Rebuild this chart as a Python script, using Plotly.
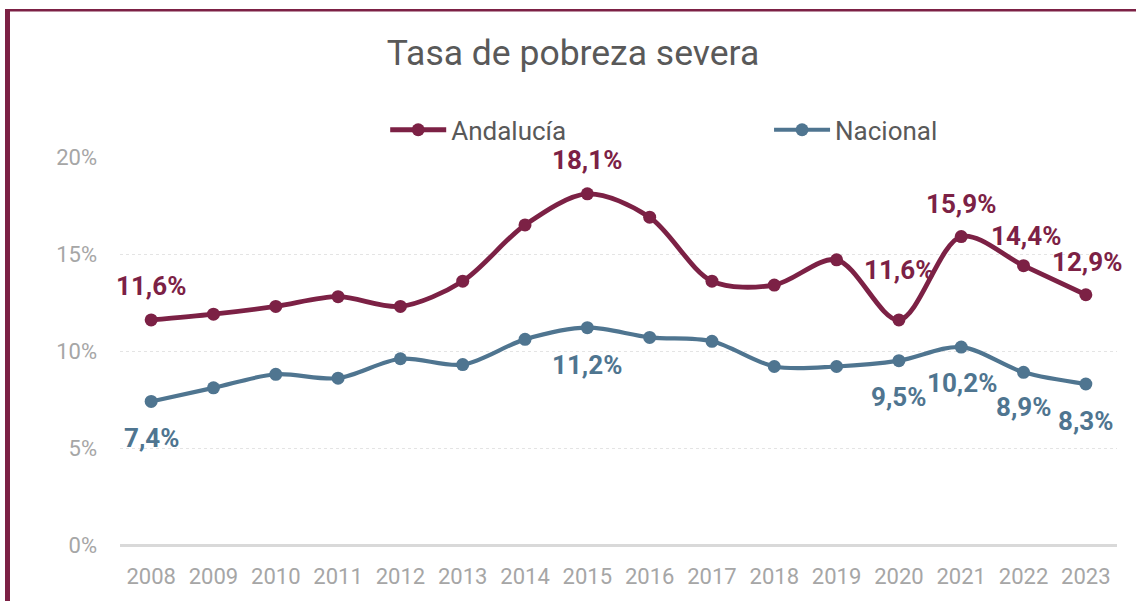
import plotly.graph_objects as go

years = ["2008", "2009", "2010", "2011", "2012", "2013", "2014", "2015",
         "2016", "2017", "2018", "2019", "2020", "2021", "2022", "2023"]
andalucia = [0.116, 0.119, 0.123, 0.128, 0.123, 0.136, 0.165, 0.181,
             0.169, 0.136, 0.134, 0.147, 0.116, 0.159, 0.144, 0.129]
nacional = [0.074, 0.081, 0.088, 0.086, 0.096, 0.093, 0.106, 0.112,
            0.107, 0.105, 0.092, 0.092, 0.095, 0.102, 0.089, 0.083]
and_labels = {"2008": "11,6%", "2015": "18,1%", "2020": "11,6%",
              "2021": "15,9%", "2022": "14,4%", "2023": "12,9%"}
nac_labels = {"2008": "7,4%", "2015": "11,2%", "2020": "9,5%",
              "2021": "10,2%", "2022": "8,9%", "2023": "8,3%"}
y_ticks = [0, 0.05, 0.10, 0.15, 0.20]
y_ticktext = ["0%", "5%", "10%", "15%", "20%"]

MAROON = "#7C2145"
BLUE = "#4F7590"
FONT = "Roboto"

fig = go.Figure()
fig.add_trace(go.Scatter(
    x=years, y=andalucia, name="Andalucía", mode="lines+markers",
    line=dict(color=MAROON, width=4.8, shape="spline", smoothing=0.9),
    marker=dict(color=MAROON, size=13), cliponaxis=False, legend="legend"))
fig.add_trace(go.Scatter(
    x=years, y=nacional, name="Nacional", mode="lines+markers",
    line=dict(color=BLUE, width=4.2, shape="spline", smoothing=0.9),
    marker=dict(color=BLUE, size=13), cliponaxis=False, legend="legend2"))

# label placement (pixel shifts relative to the data point)
and_shift = {"2008": (0, 34), "2015": (0, 34), "2020": (0, 50),
             "2021": (0, 33), "2022": (2, 30), "2023": (1, 33)}
nac_shift = {"2008": (0, -37), "2015": (0, -37), "2020": (0, -36),
             "2021": (1, -36), "2022": (0, -35), "2023": (0, -37)}

annotations = []
for yr, txt in and_labels.items():
    i = years.index(yr)
    dx, dy = and_shift[yr]
    annotations.append(dict(x=i, y=andalucia[i], text=txt, showarrow=False,
                            xshift=dx, yshift=dy,
                            font=dict(family=FONT, size=26, color=MAROON, weight="bold")))
for yr, txt in nac_labels.items():
    i = years.index(yr)
    dx, dy = nac_shift[yr]
    annotations.append(dict(x=i, y=nacional[i], text=txt, showarrow=False,
                            xshift=dx, yshift=dy,
                            font=dict(family=FONT, size=26, color=BLUE, weight="bold")))

shapes = [
    # left maroon frame edge
    dict(type="rect", xref="paper", yref="paper", xsizemode="pixel", ysizemode="pixel",
         xanchor=0, yanchor=1, x0=-115, x1=-110, y0=-450, y1=148,
         fillcolor=MAROON, line=dict(width=0), layer="above"),
    # top maroon frame edge
    dict(type="rect", xref="paper", yref="paper", xsizemode="pixel", ysizemode="pixel",
         xanchor=0, yanchor=1, x0=-115, x1=1030, y0=145.5, y1=148,
         fillcolor=MAROON, line=dict(width=0), layer="above"),
]

legend_style = dict(orientation="h", yanchor="middle", y=1.07, xanchor="left",
                    font=dict(family=FONT, size=26, color="#595959"),
                    itemwidth=56, bgcolor="rgba(0,0,0,0)")

fig.update_layout(
    width=1136, height=601,
    margin=dict(l=120, r=19, t=157, b=56),
    paper_bgcolor="white", plot_bgcolor="white",
    font=dict(family=FONT, color="#595959"),
    title=dict(text="Tasa de pobreza severa", x=0.4544, xref="paper", xanchor="center",
               y=0.912, yanchor="middle",
               font=dict(family=FONT, size=35.5, color="#595959")),
    legend=dict(legend_style, x=0.266),
    legend2=dict(legend_style, x=0.651),
    xaxis=dict(type="category", range=[-0.5, 15.5], showgrid=False, showline=False,
               ticks="", tickfont=dict(family=FONT, size=22, color="#A6A6A6"),
               ticklabelstandoff=16, zeroline=False, fixedrange=True),
    yaxis=dict(range=[0, 0.2], tickvals=y_ticks, ticktext=y_ticktext,
               showgrid=True, gridcolor="#E4E4E4", griddash="dot", gridwidth=1,
               zeroline=True, zerolinecolor="#D9D9D9", zerolinewidth=3,
               tickfont=dict(family=FONT, size=22, color="#A6A6A6"),
               ticklabelstandoff=22, showline=False, ticks=""),
    annotations=annotations,
    shapes=shapes,
    showlegend=True,
)

fig.write_html("out.html", config={"displayModeBar": False},
               post_script="document.body.style.margin='0px';")
